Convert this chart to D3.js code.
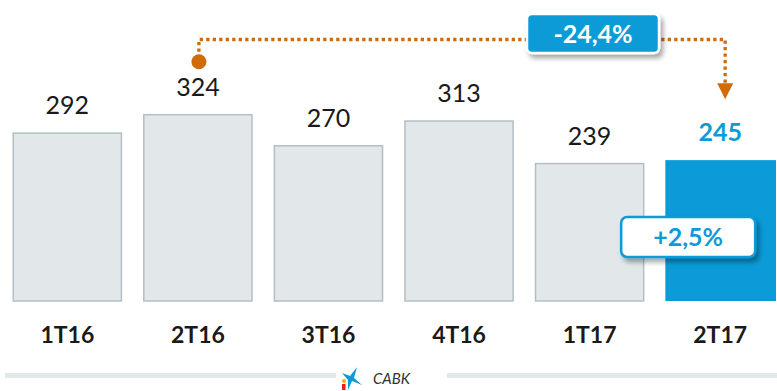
<!DOCTYPE html>
<html>
<head>
<meta charset="utf-8">
<script src="https://cdn.jsdelivr.net/npm/d3@7"></script>
<style>
  html, body { margin: 0; padding: 0; background: #fff; }
  svg { display: block; }
</style>
</head>
<body>
<svg id="chart" width="777" height="391"></svg>
<script>
// Quarterly figures
const categories = ["1T16", "2T16", "3T16", "4T16", "1T17", "2T17"];
const values = [292, 324, 270, 313, 239, 245];
const highlight = "2T17";

// Year-on-year and quarter-on-quarter change badges
const yoyFrom = "2T16", yoyTo = "2T17", yoyLabel = "-24,4%";
const qoqLabel = "+2,5%";
const brandLabel = "CABK";

const W = 777, H = 391;
const blue = "#0A9BD8";
const orange = "#D06A0B";
const font = "Lato, 'Open Sans', sans-serif";

const svg = d3.select("#chart");

const defs = svg.append("defs");
const shadow = defs.append("filter").attr("id", "shadow")
  .attr("x", "-20%").attr("y", "-30%").attr("width", "150%").attr("height", "180%");
shadow.append("feDropShadow").attr("dx", 3).attr("dy", 4)
  .attr("stdDeviation", 2.5).attr("flood-color", "#000").attr("flood-opacity", 0.35);

const x = d3.scaleBand().domain(categories).range([12.5, 775]).paddingInner(0.16).paddingOuter(0);
const y = d3.scaleLinear().domain([0, 523.5]).range([301, 0]);

const data = categories.map((c, i) => ({ cat: c, value: values[i] }));

// Bars
svg.append("g").selectAll("rect").data(data).join("rect")
  .attr("x", d => d.cat === highlight ? x(d.cat) : x(d.cat) + 0.75)
  .attr("y", d => y(d.value))
  .attr("width", d => d.cat === highlight ? x.bandwidth() + 1 : x.bandwidth() - 1.5)
  .attr("height", d => y(0) - y(d.value))
  .attr("fill", d => d.cat === highlight ? blue : "#E2E7EA")
  .attr("stroke", d => d.cat === highlight ? "none" : "#B3BFC5")
  .attr("stroke-width", 1.5);

// Value labels
svg.append("g").selectAll("text").data(data).join("text")
  .attr("x", d => x(d.cat) + x.bandwidth() / 2)
  .attr("y", d => y(d.value) - 19)
  .attr("text-anchor", "middle")
  .attr("font-family", font)
  .attr("font-size", 25)
  .attr("font-weight", d => d.cat === highlight ? 700 : 400)
  .attr("fill", d => d.cat === highlight ? blue : "#1a1a1a")
  .text(d => d.value);

// Category axis labels
const xAxis = svg.append("g").attr("transform", `translate(0,${y(0)})`)
  .call(d3.axisBottom(x).tickSize(0).tickPadding(0));
xAxis.select(".domain").remove();
xAxis.selectAll("text")
  .attr("y", 42)
  .attr("dy", 0)
  .attr("font-family", font)
  .attr("font-size", 23)
  .attr("font-weight", 700)
  .attr("fill", "#1a1a1a");

// Year-on-year connector
const xFrom = x(yoyFrom) + x.bandwidth() / 2 + 1;
const xTo = x(yoyTo) + x.bandwidth() / 2 + 5;
const vFrom = values[categories.indexOf(yoyFrom)];
const vTo = values[categories.indexOf(yoyTo)];
const lineY = 39.5;
const circleY = y(vFrom) - 53;
const tipY = y(vTo) - 61;

svg.append("path")
  .attr("d", `M${xFrom},${circleY - 10} V${lineY} H${xTo} V${tipY - 15}`)
  .attr("fill", "none")
  .attr("stroke", orange)
  .attr("stroke-width", 3.3)
  .attr("stroke-dasharray", "3.3 3.2");
svg.append("circle").attr("cx", xFrom).attr("cy", circleY).attr("r", 7.5).attr("fill", orange);
svg.append("path")
  .attr("d", `M${xTo - 8},${tipY - 16} L${xTo + 8},${tipY - 16} L${xTo},${tipY} Z`)
  .attr("fill", orange);

// Year-on-year badge
const yoyG = svg.append("g").attr("transform", "translate(593,33.5)");
yoyG.append("rect")
  .attr("x", -66).attr("y", -19.5).attr("width", 132).attr("height", 39).attr("rx", 5)
  .attr("fill", blue).attr("stroke", "#fff").attr("stroke-width", 2.5)
  .attr("filter", "url(#shadow)");
yoyG.append("text")
  .attr("text-anchor", "middle").attr("y", 9)
  .attr("font-family", font).attr("font-size", 25).attr("font-weight", 700)
  .attr("fill", "#fff").text(yoyLabel);

// Quarter-on-quarter badge
const qoqG = svg.append("g")
  .attr("transform", `translate(${x(highlight) + x.bandwidth() / 2 - 32},237)`);
qoqG.append("rect")
  .attr("x", -67).attr("y", -20).attr("width", 134).attr("height", 40).attr("rx", 6)
  .attr("fill", "#fff").attr("stroke", blue).attr("stroke-width", 2.5)
  .attr("filter", "url(#shadow)");
qoqG.append("text")
  .attr("text-anchor", "middle").attr("y", 9)
  .attr("font-family", font).attr("font-size", 25).attr("font-weight", 700)
  .attr("fill", blue).text(qoqLabel);

// Footer rule with brand mark
svg.append("rect").attr("x", 5).attr("y", 373).attr("width", 331).attr("height", 5).attr("fill", "#E2E7EA");
svg.append("rect").attr("x", 447).attr("y", 373).attr("width", W - 447).attr("height", 5).attr("fill", "#E2E7EA");

const logo = svg.append("g").attr("transform", "translate(340,367)");
logo.append("path")
  .attr("d", "M2,6 L10,9 L17,0 L14,11 L22,18 L12,14 L8,23 L8,13 Z")
  .attr("fill", blue);
logo.append("circle").attr("cx", 4).attr("cy", 14).attr("r", 2).attr("fill", "#F2A900");
logo.append("rect").attr("x", 2).attr("y", 17).attr("width", 3.5).attr("height", 6).attr("fill", "#E2231A");

svg.append("text")
  .attr("x", 373).attr("y", 384)
  .attr("font-family", font).attr("font-size", 15).attr("font-style", "italic")
  .attr("fill", "#333").text(brandLabel);
</script>
</body>
</html>
